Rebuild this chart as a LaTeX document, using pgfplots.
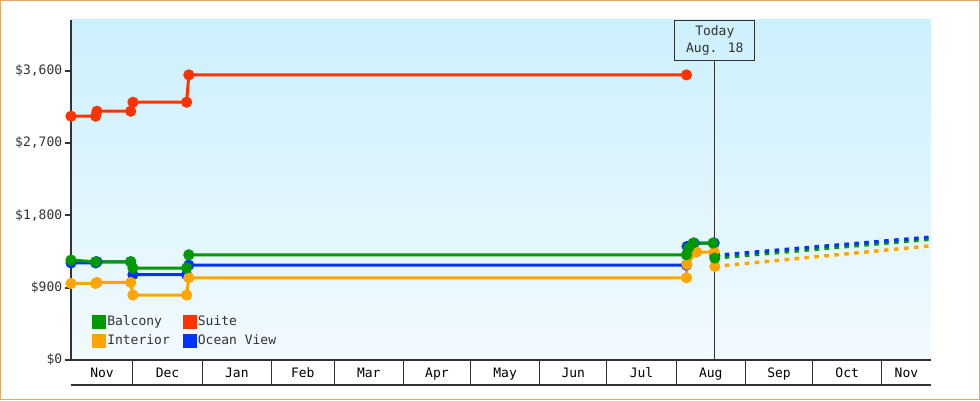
\documentclass[border=0pt]{standalone}
\usepackage{pgfplots}
\pgfplotsset{compat=1.18}
\usepackage{fontspec}
\setmainfont{DejaVu Sans Mono}
\setmonofont{DejaVu Sans Mono}
\definecolor{cbal}{HTML}{009900}
\definecolor{csui}{HTML}{FF3300}
\definecolor{cint}{HTML}{FFA500}
\definecolor{cocn}{HTML}{0033FF}
\definecolor{cdark}{HTML}{333333}
\definecolor{cborder}{HTML}{E8A860}
\definecolor{bgtop}{HTML}{CCF0FD}
\definecolor{bgbot}{HTML}{F2FAFF}
\begin{document}
\begin{tikzpicture}[x=1pt,y=1pt]
\fontsize{13pt}{15pt}\selectfont
\draw[cborder,line width=1.2pt] (0.6,0.6) rectangle (979.4,399.4);
\begin{axis}[
  at={(71pt,40pt)}, anchor=south west,
  scale only axis, width=860pt, height=340pt,
  xmin=2.3, xmax=387, ymin=0, ymax=4230,
  axis background/.style={top color=bgtop, bottom color=bgbot},
  axis x line=bottom, axis y line=left,
  x axis line style={-, cdark, line width=1.2pt},
  y axis line style={-, cdark, line width=2.5pt},
  clip=false,
  ytick={0,900,1800,2700,3600},
  yticklabels={{\$0},{\$900},{\$1,800},{\$2,700},{\$3,600}},
  ytick align=outside,
  ytick style={cdark, line width=2pt, /pgfplots/major tick length=6pt},
  yticklabel style={text=cdark, font=\fontsize{13pt}{15pt}\selectfont},
  xtick={30,61,92,120,151,181,212,242,273,304,334,365},
  xticklabels={},
  xtick align=outside,
  xtick style={cdark, line width=1pt, /pgfplots/major tick length=25pt},
  extra x ticks={16.2,45.5,76.5,106,135.5,166,196.5,227,257.5,288.5,319,349.5,376},
  extra x tick labels={Nov,Dec,Jan,Feb,Mar,Apr,May,Jun,Jul,Aug,Sep,Oct,Nov},
  extra x tick style={major tick length=0pt, tick style={draw=none},
     xticklabel style={font=\fontsize{13pt}{15pt}\selectfont, text=black, yshift=-3pt}},
  legend columns=2,
  reverse legend,
  legend cell align=left,
  legend style={draw=none, fill=none, at={(0.021,0.03)}, anchor=south west,
     font=\fontsize{13pt}{15pt}\selectfont, row sep=5pt,
     /tikz/every even column/.append style={column sep=12pt},
     nodes={inner sep=1pt, text=cdark}},
  legend image code/.code={\fill[#1] (0pt,-5.5pt) rectangle (11pt,5.5pt);},
  every axis plot/.append style={line width=3pt, mark=*, mark size=4pt, mark options={solid}},
]
% Ocean View
\addplot[color=cocn] coordinates {(2.3,1208)(13.3,1208)(13.9,1222)(29,1222)(30,1061)(54,1061)(55,1181)(277.6,1181)(277.9,1412)(281,1455)(290,1455)(290.3,1300)};
\addlegendentry{Ocean View}
% Interior
\addplot[color=cint] coordinates {(2.3,952)(13.3,952)(13.9,965)(29,965)(30,808)(54,808)(55,1023)(277.6,1023)(277.8,1190)(282.1,1343)(290,1343)(290.3,1164)};
\addlegendentry{Interior}
% Suite
\addplot[color=csui] coordinates {(2.3,3033)(13.3,3033)(13.9,3095)(29,3095)(30,3207)(54,3207)(55,3547)(277.6,3547)};
\addlegendentry{Suite}
% Balcony
\addplot[color=cbal] coordinates {(2.3,1243)(13.3,1222)(29,1222)(30,1144)(54,1144)(55,1309)(277.6,1309)(278.5,1390)(280.6,1455)(289.5,1455)(290.3,1268)};
\addlegendentry{Balcony}
% forecasts
\addplot[forget plot, color=cint, mark=none, line width=3.5pt, dash pattern=on 4.5pt off 5.5pt] coordinates {(290.3,1164)(387,1421)};
\addplot[forget plot, color=cbal, mark=none, line width=3.5pt, dash pattern=on 4.5pt off 5.5pt] coordinates {(290.3,1268)(387,1504)};
\addplot[forget plot, color=cocn, mark=none, line width=3.5pt, dash pattern=on 4.5pt off 5.5pt] coordinates {(290.3,1300)(387,1529)};
\draw[cdark, line width=1.2pt] ([yshift=-25pt]rel axis cs:0,0) -- ([yshift=-25pt]rel axis cs:1,0);
\node[draw=cdark, line width=1pt, anchor=north, minimum width=80pt, minimum height=40pt, align=center, inner sep=2pt, text=cdark, font=\fontsize{13pt}{17.5pt}\selectfont] (today) at (axis cs:290.3,4230) {Today\\Aug. 18};
\draw[cdark, line width=1pt] (today.south) -- (axis cs:290.3,0);
\end{axis}
\end{tikzpicture}
\end{document}
